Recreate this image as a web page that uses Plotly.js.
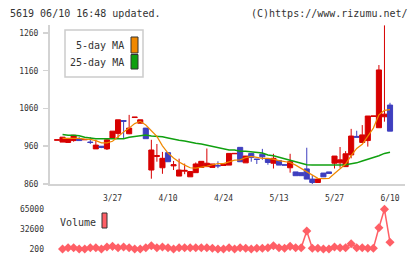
<!DOCTYPE html>
<html><head><meta charset="utf-8">
<script src="https://cdn.plot.ly/plotly-3.0.1.min.js"></script>
<style>html,body{margin:0;padding:0;background:#fff}#c{width:420px;height:259px}</style>
</head><body><div id="c"></div>
<script>
const dates = ["3/12","3/13","3/14","3/15","3/18","3/19","3/21","3/22","3/25","3/26",
"3/27","3/28","3/29","4/1","4/2","4/3","4/4","4/5","4/8","4/9",
"4/10","4/11","4/12","4/15","4/16","4/17","4/18","4/19","4/22","4/23",
"4/24","4/25","4/26","4/30","5/1","5/2","5/7","5/8","5/9","5/10",
"5/13","5/14","5/15","5/16","5/17","5/20","5/21","5/22","5/23","5/24",
"5/27","5/28","5/29","5/30","5/31","6/3","6/4","6/5","6/6","6/7","6/10"];
const openP = [976,971,970,975,980,977,971,953,960,953,
982,994,1028,993,1036,1021,1008,897,933,903,
943,908,881,894,879,890,904,906,904,909,
909,910,940,957,916,941,926,939,926,915,
922,911,903,892,890,900,873,864,889,892,
915,916,906,937,986,970,975,1039,1009,1038,1069];
const highP = [977,984,982,989,984,978,984,977,960,980,
1000,1030,1028,1043,1037,1030,1008,977,966,945,
943,921,927,914,893,917,920,954,913,920,
913,941,941,957,934,942,926,953,926,940,
922,911,940,892,890,956,883,873,889,892,
934,958,947,1006,1001,1016,1040,1040,1175,1280,1075];
const lowP = [976,971,970,972,975,977,966,953,955,950,
982,981,982,992,1036,1021,980,874,919,887,
919,897,881,886,879,890,904,906,904,902,
909,910,940,919,916,919,913,924,911,901,
910,910,890,882,882,873,860,864,879,888,
901,903,906,928,984,970,959,1039,1009,1025,1000];
const closeP = [977,984,979,989,975,978,970,963,957,977,
1000,1030,1026,1008,1037,1030,980,950,935,928,
919,911,897,896,893,913,920,915,913,908,
913,941,941,919,934,930,925,932,917,928,
910,910,919,882,882,873,864,873,879,888,
934,924,940,987,984,990,1040,1040,1162,1045,1000];
const ma5 = [null,981,981,981,981,979,978,975,969,969,
973,985,998,1008,1020,1026,1016,1001,986,961,
942,929,918,910,903,902,904,907,911,914,
914,918,923,924,930,933,930,928,928,926,
922,919,917,910,901,893,884,875,874,875,
888,900,913,935,954,965,988,1008,1043,1055,1057];
const ma25 = [null,991,989,989,988,984,981,980,980,980,
980,980,980,984,986,987,990,987,987,985,
982,978,976,974,970,968,966,963,960,956,
954,950,950,947,947,946,943,942,937,935,
931,927,923,918,915,911,910,910,908,908,
909,910,911,913,916,921,925,930,935,941,944];
const volume = [null,700,2800,2800,700,700,2800,2800,700,3900,
5000,2800,3900,2800,700,700,2800,6000,2800,3900,
2800,700,2800,2800,2800,2800,2800,2800,1800,700,
700,2800,700,2800,1800,700,1800,1800,2800,6000,
2800,1800,5000,2800,2800,29900,1800,1800,700,700,
3900,2800,2800,9300,2800,2800,1800,1800,35200,65000,11500];
const priceTicks = [860,960,1060,1160,1260];
const volTicks = [200,32600,65000];
const volTickText = ["200","32600","65000"];
const dateTicks = ["3/27","4/10","4/24","5/13","5/27","6/10"];

const W=420,H=259,L=50,R=15,PW=W-L-R;
const px=v=>(v-L)/PW, py=v=>1-v/H;
const XR=[-1.26,62.7];
const mono="DejaVu Sans Mono";
const grey="#d3d3d3", txt="#333";

const traces=[
 {type:'candlestick',x:dates,open:openP,high:highP,low:lowP,close:closeP,xaxis:'x',yaxis:'y',
  increasing:{line:{color:'#d70000',width:1},fillcolor:'#d70000'},
  decreasing:{line:{color:'#3f3fbf',width:1},fillcolor:'#3f3fbf'},whiskerwidth:0,hoverinfo:'skip'},
 {type:'scatter',mode:'lines',x:dates,y:ma25,xaxis:'x',yaxis:'y',line:{color:'#10a010',width:1.5},hoverinfo:'skip'},
 {type:'scatter',mode:'lines',x:dates,y:ma5,xaxis:'x',yaxis:'y',line:{color:'#f08800',width:1.2},hoverinfo:'skip'},
 {type:'scatter',mode:'lines+markers',x:dates,y:volume,xaxis:'x3',yaxis:'y2',
  line:{color:'#ff5f66',width:1.5},marker:{symbol:'diamond',size:7,color:'#ff5f66'},hoverinfo:'skip'}
];
const tf={family:mono,size:8,color:txt};
const layout={
 width:W,height:H,margin:{l:L,r:R,t:0,b:0},paper_bgcolor:'#fff',plot_bgcolor:'#fff',
 showlegend:false,boxgap:0.08,boxgroupgap:0,
 xaxis:{type:'category',range:XR,domain:[0,1],anchor:'y',rangeslider:{visible:false},
   showline:true,linecolor:grey,linewidth:2,showgrid:false,zeroline:false,ticks:'',
   tickmode:'array',tickvals:dateTicks,ticktext:dateTicks,tickfont:tf,ticklabelstandoff:5},
 xaxis2:{overlaying:'x',anchor:'y',type:'linear',range:XR,tickmode:'linear',tick0:-1.26,dtick:5.82,
   ticks:'outside',ticklen:5,tickwidth:1.5,tickcolor:grey,showticklabels:false,showline:false,showgrid:false,zeroline:false},
 xaxis4:{overlaying:'x',anchor:'y',type:'linear',range:XR,tickmode:'linear',tick0:-1.26,dtick:5.82,
   ticks:'inside',ticklen:3,tickwidth:1.5,tickcolor:grey,showticklabels:false,showline:false,showgrid:false,zeroline:false},
 xaxis3:{type:'category',range:XR,domain:[0,1],anchor:'y2',visible:false},
 yaxis:{domain:[py(184),py(25)],range:[860,1281],anchor:'x',showline:true,linecolor:grey,linewidth:2,
   showgrid:false,zeroline:false,ticks:'outside',ticklen:5,tickwidth:1.5,tickcolor:grey,
   tickmode:'array',tickvals:priceTicks,tickfont:tf,ticklabelstandoff:3},
 yaxis3:{overlaying:'y',anchor:'x',range:[860,1281],ticks:'inside',ticklen:3,tickwidth:1.5,tickcolor:grey,
   tickmode:'array',tickvals:priceTicks,showticklabels:false,showline:false,showgrid:false,zeroline:false},
 yaxis2:{domain:[py(255),py(200)],range:[-9034,80066],anchor:'x3',showline:false,showgrid:false,zeroline:false,
   ticks:'',tickmode:'array',tickvals:volTicks,ticktext:volTickText,tickfont:tf,ticklabelstandoff:5},
 shapes:[
  {type:'rect',xref:'paper',yref:'paper',x0:px(65),x1:px(143),y0:py(30),y1:py(77),line:{color:'#cccccc',width:1.5},fillcolor:'#fff',layer:'above'},
  {type:'rect',xref:'paper',yref:'paper',x0:px(131),x1:px(138),y0:py(37),y1:py(53),line:{color:'#333',width:1},fillcolor:'#f08800',layer:'above'},
  {type:'rect',xref:'paper',yref:'paper',x0:px(131),x1:px(138),y0:py(54.5),y1:py(69),line:{color:'#333',width:1},fillcolor:'#10a010',layer:'above'},
  {type:'rect',xref:'paper',yref:'paper',x0:px(102),x1:px(107),y0:py(213),y1:py(228),line:{color:'#333',width:1},fillcolor:'#ff5f66',layer:'above'}
 ],
 annotations:[
  {xref:'paper',yref:'paper',x:px(8),y:py(13),xanchor:'left',yanchor:'middle',showarrow:false,text:'5619 06/10 16:48 updated.',font:{family:mono,size:10,color:txt}},
  {xref:'paper',yref:'paper',x:px(410),y:py(13),xanchor:'right',yanchor:'middle',showarrow:false,text:'(C)https://www.rizumu.net/',font:{family:mono,size:10,color:txt}},
  {xref:'paper',yref:'paper',x:px(126),y:py(46),xanchor:'right',yanchor:'middle',showarrow:false,text:'5-day MA',font:{family:mono,size:10,color:txt}},
  {xref:'paper',yref:'paper',x:px(126),y:py(63),xanchor:'right',yanchor:'middle',showarrow:false,text:'25-day MA',font:{family:mono,size:10,color:txt}},
  {xref:'paper',yref:'paper',x:px(58),y:py(222),xanchor:'left',yanchor:'middle',showarrow:false,text:'Volume',font:{family:mono,size:10,color:txt}}
 ]
};
Plotly.newPlot('c',traces,layout,{staticPlot:true,displayModeBar:false});
</script></body></html>
